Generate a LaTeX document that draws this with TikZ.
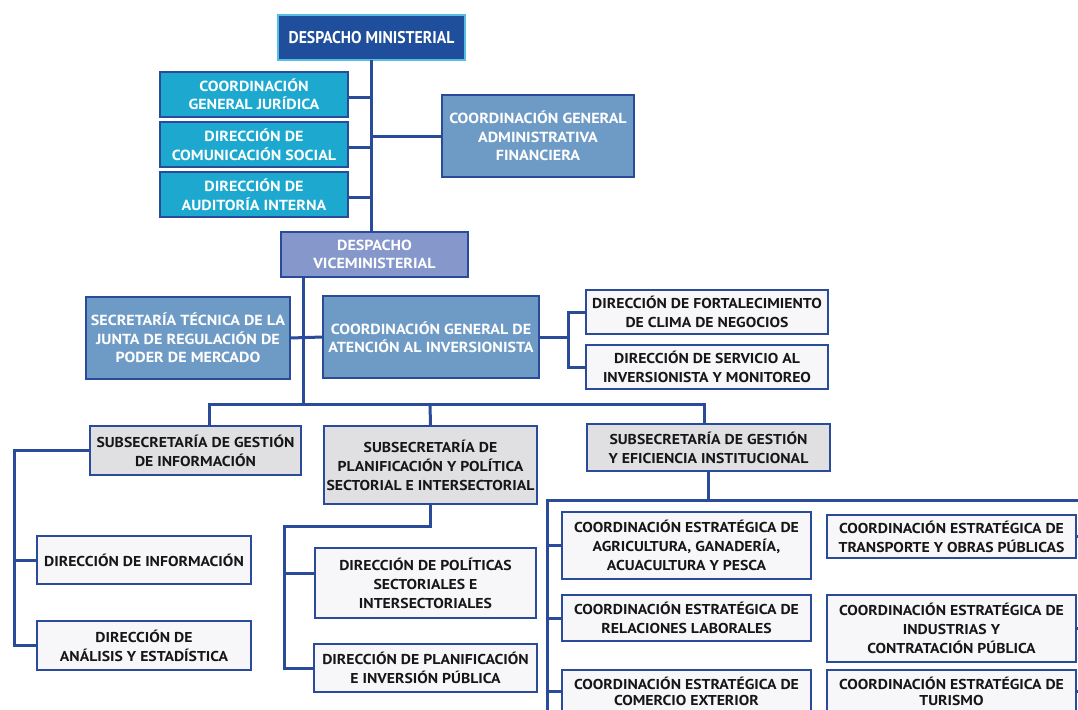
\documentclass[tikz,border=0pt]{standalone}
\usepackage{fontspec}
\setmainfont{PT Sans}[FakeStretch=1.1]
\usetikzlibrary{calc}

\definecolor{linecol}{HTML}{2A4B9A}
\definecolor{darkfill}{HTML}{1F4E9D}
\definecolor{lightedge}{HTML}{56BDE3}
\definecolor{cyanfill}{HTML}{1CA8CF}
\definecolor{steelfill}{HTML}{6E9BC6}
\definecolor{violetfill}{HTML}{8698CB}
\definecolor{grayfill}{HTML}{E0E0E2}
\definecolor{whitefill}{HTML}{F7F7F9}
\definecolor{inkcol}{HTML}{161616}

\tikzset{
  box/.style={draw=linecol, line width=2.2pt, inner sep=0pt, outer sep=0pt,
    align=center, anchor=north west,
    font=\bfseries\fontsize{14.3}{19}\selectfont},
  topbox/.style={box, text=white, font=\bfseries\fontsize{14.6}{18.5}\selectfont},
  cyanbox/.style={topbox, fill=cyanfill},
  steelbox/.style={topbox, fill=steelfill},
  violetbox/.style={topbox, fill=violetfill},
  graybox/.style={box, fill=grayfill, text=inkcol},
  plainbox/.style={box, fill=whitefill, text=inkcol},
  tightbox/.style={plainbox, font=\bfseries\fontsize{14.3}{16}\selectfont},
  headbox/.style={box, fill=darkfill, draw=lightedge, line width=1.6pt, text=white,
    font=\bfseries\fontsize{17}{20}\selectfont},
  conn/.style={draw=linecol, line width=3pt},
}

% \orgbox{style}{left}{top}{right}{bottom}{name}{text}
\newcommand\orgbox[7]{%
  \node[#1, minimum width={(#4)-(#2)}, minimum height={(#5)-(#3)}] (#6) at (#2,#3) {#7};}

\begin{document}
\begin{tikzpicture}[x=1pt, y=-1pt]
  \clip (0,0) rectangle (1078,709);
  \fill[white] (0,0) rectangle (1078,709);

  % junction points of the connector lines
  \coordinate (vt) at (303,277);
  \coordinate (b1) at (209,404);
  \coordinate (b2) at (430,404);
  \coordinate (b3) at (704,404);
  \coordinate (cb) at (568,337);
  \coordinate (rbus) at (547,500);
  \coordinate (rbusr) at (1086,500);

  % boxes
  \orgbox{headbox}{278}{15}{465}{60}{dm}{\scalebox{0.84}[1]{DESPACHO MINISTERIAL}}
  \orgbox{cyanbox}{160}{72}{348}{117}{cgj}{COORDINACIÓN\\GENERAL JURÍDICA}
  \orgbox{cyanbox}{160}{122}{348}{167}{dcs}{DIRECCIÓN DE\\COMUNICACIÓN SOCIAL}
  \orgbox{cyanbox}{160}{172}{348}{217}{dai}{DIRECCIÓN DE\\AUDITORÍA INTERNA}
  \orgbox{steelbox}{442}{95}{634}{177}{cgaf}{COORDINACIÓN GENERAL\\ADMINISTRATIVA\\FINANCIERA}
  \orgbox{violetbox}{281}{232}{468}{277}{dv}{DESPACHO\\VICEMINISTERIAL}
  \orgbox{steelbox}{86}{297}{290}{379}{stj}{SECRETARÍA TÉCNICA DE LA\\JUNTA DE REGULACIÓN DE\\PODER DE MERCADO}
  \orgbox{steelbox}{323}{296}{539}{378}{cgai}{COORDINACIÓN GENERAL DE\\ATENCIÓN AL INVERSIONISTA}
  \orgbox{plainbox}{586}{290}{828}{334}{dfcn}{DIRECCIÓN DE FORTALECIMIENTO\\DE CLIMA DE NEGOCIOS}
  \orgbox{plainbox}{586}{345}{828}{389}{dsim}{DIRECCIÓN DE SERVICIO AL\\INVERSIONISTA Y MONITOREO}

  \orgbox{graybox}{90}{426}{301}{475}{sgi}{SUBSECRETARÍA DE GESTIÓN\\DE INFORMACIÓN}
  \orgbox{graybox}{324}{426}{537}{504}{spps}{SUBSECRETARÍA DE\\PLANIFICACIÓN Y POLÍTICA\\SECTORIAL E INTERSECTORIAL}
  \orgbox{graybox}{587}{424}{830}{471}{sgei}{SUBSECRETARÍA DE GESTIÓN\\Y EFICIENCIA INSTITUCIONAL}

  \orgbox{plainbox}{37}{536}{251}{584}{di}{DIRECCIÓN DE INFORMACIÓN}
  \orgbox{plainbox}{37}{621}{251}{670}{dae}{DIRECCIÓN DE\\ANÁLISIS Y ESTADÍSTICA}
  \orgbox{plainbox}{315}{548}{536}{618}{dpsi}{DIRECCIÓN DE POLÍTICAS\\SECTORIALES E\\INTERSECTORIALES}
  \orgbox{plainbox}{314}{644}{537}{692}{dpip}{DIRECCIÓN DE PLANIFICACIÓN\\E INVERSIÓN PÚBLICA}

  \orgbox{plainbox}{562}{512}{811}{579}{ceagap}{COORDINACIÓN ESTRATÉGICA DE\\AGRICULTURA, GANADERÍA,\\ACUACULTURA Y PESCA}
  \orgbox{plainbox}{562}{595}{811}{641}{cerl}{COORDINACIÓN ESTRATÉGICA DE\\RELACIONES LABORALES}
  \orgbox{tightbox}{562}{670}{811}{712}{cece}{COORDINACIÓN ESTRATÉGICA DE\\COMERCIO EXTERIOR}
  \orgbox{plainbox}{827}{515}{1076}{558}{cetop}{COORDINACIÓN ESTRATÉGICA DE\\TRANSPORTE Y OBRAS PÚBLICAS}
  \orgbox{plainbox}{827}{595}{1076}{662}{ceicp}{COORDINACIÓN ESTRATÉGICA DE\\INDUSTRIAS Y\\CONTRATACIÓN PÚBLICA}
  \orgbox{tightbox}{827}{670}{1076}{712}{cet}{COORDINACIÓN ESTRATÉGICA DE\\TURISMO}

  % ministerial trunk and staff units
  \draw[conn] (dm.south) -- (dm.south |- dv.north);
  \draw[conn] ($(cgj.east)+(0,3)$) -- ($(cgj.east -| dm.south)+(0,3)$);
  \draw[conn] ($(dcs.east)+(0,3)$) -- ($(dcs.east -| dm.south)+(0,3)$);
  \draw[conn] ($(dai.east)+(0,3)$) -- ($(dai.east -| dm.south)+(0,3)$);
  \draw[conn] (cgaf.west) -- (cgaf.west -| dm.south);

  % viceministerial trunk
  \draw[conn] (vt) -- (b2 -| vt);
  \draw[conn] (stj.east) -- (cgai.west);
  \draw[conn] (cgai.east) -- (cb);
  \draw[conn] (dfcn.west) -| (cb) |- (dsim.west);

  % subsecretariat bus
  \draw[conn] (b1 |- sgi.north) -- (b1) -- (b3) -- (b3 |- sgei.north);
  \draw[conn] (spps.north) -- (b2);

  % information branch
  \draw[conn] (sgi.west) -| ($(dae.west)+(-23,0)$) -- (dae.west);
  \draw[conn] (di.west) -- ++(-23,0);

  % planning branch
  \draw[conn] (spps.south) -- ++(0,22) -| ($(dpip.west)+(-30,0)$) -- (dpip.west);
  \draw[conn] ($(dpsi.west)+(0,-10)$) -- ++(-31,0);

  % institutional efficiency branch
  \draw[conn] (sgei.south) -- (sgei.south |- rbus);
  \draw[conn] (rbus |- cece.south) -- (rbus) -- (rbusr) -- (rbusr |- cet.south);
  \draw[conn] (ceagap.west) -- (ceagap.west -| rbus);
  \draw[conn] (cerl.west) -- (cerl.west -| rbus);
  \draw[conn] (cece.west) -- (cece.west -| rbus);
  \draw[conn] (cetop.east) -- (cetop.east -| rbusr);
  \draw[conn] (ceicp.east) -- (ceicp.east -| rbusr);
  \draw[conn] (cet.east) -- (cet.east -| rbusr);
\end{tikzpicture}
\end{document}
